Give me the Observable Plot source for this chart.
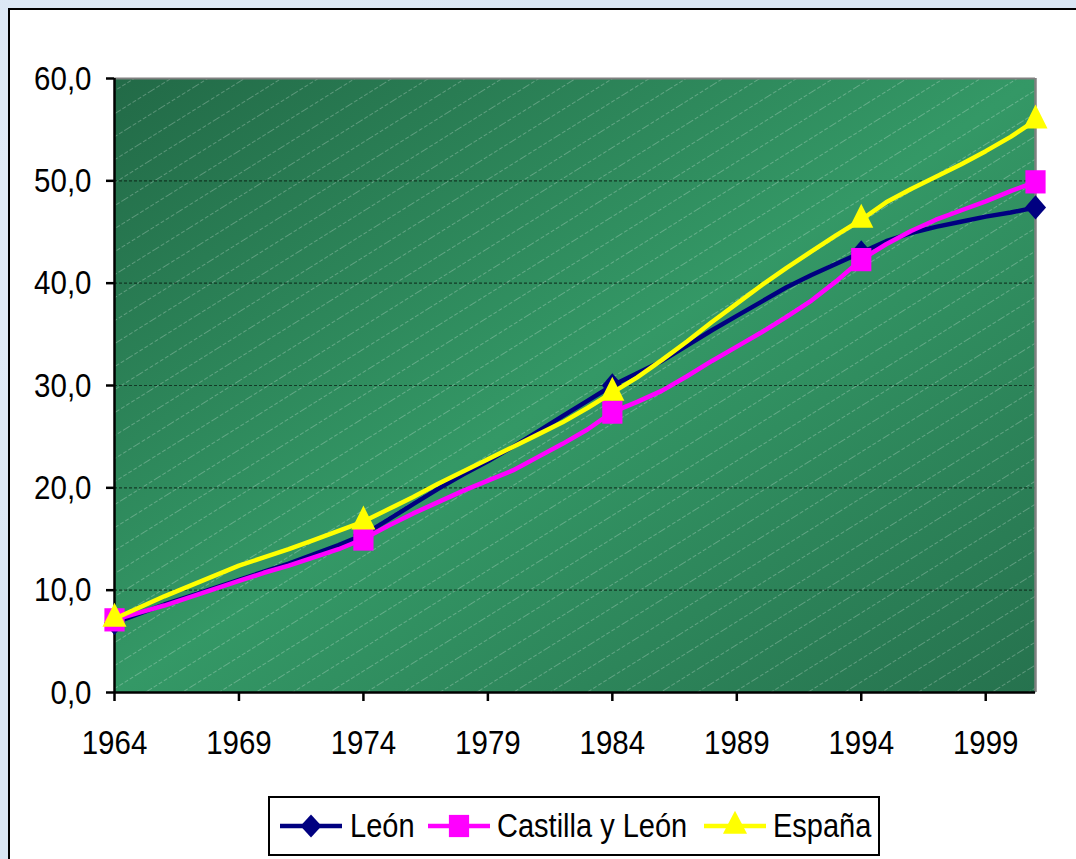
<!DOCTYPE html>
<html>
<head>
<meta charset="utf-8">
<script src="https://cdn.jsdelivr.net/npm/d3@7"></script>
<script src="https://cdn.jsdelivr.net/npm/@observablehq/plot@0.6"></script>
<style>
  html, body { margin: 0; padding: 0; }
  body { width: 1076px; height: 859px; overflow: hidden; position: relative;
         background: #d9e6f4;
         background-image: radial-gradient(circle at 20% 30%, rgba(255,255,255,0.35) 0, rgba(255,255,255,0) 40%),
                           radial-gradient(circle at 80% 70%, rgba(255,255,255,0.3) 0, rgba(255,255,255,0) 40%); }
  #panel { position: absolute; left: 8px; top: 8px; width: 1200px; height: 1000px;
           border: 2px solid #000; background: #fff; }
  #chart { position: absolute; left: 0; top: 0; }
  #legend { position: absolute; left: 268px; top: 796px; width: 608px; height: 56px;
            border: 2px solid #000; background: #fff; font-family: "Liberation Sans", Arial, sans-serif; }
  #legend .sw { position: absolute; top: 11px; }
  #legend .lab { position: absolute; top: 10px; font-size: 29px; line-height: 34px; color: #000;
                 display: inline-block; transform: scaleY(1.15); transform-origin: center; white-space: nowrap; }
</style>
</head>
<body>
<div id="panel"></div>
<div id="chart"></div>
<div id="legend"></div>
<script>
// ---- data ----
const years = [1964,1965,1966,1967,1968,1969,1970,1971,1972,1973,1974,1975,1976,1977,1978,1979,1980,1981,1982,1983,
               1984,1985,1986,1987,1988,1989,1990,1991,1992,1993,1994,1995,1996,1997,1998,1999,2000,2001];
const leon = [6.8,7.7,8.6,9.4,10.2,11.0,11.8,12.6,13.5,14.4,15.4,16.9,18.4,19.9,21.3,22.6,24.0,25.5,27.0,28.5,
              30.0,31.2,32.4,33.9,35.4,36.8,38.2,39.6,40.8,41.9,43.0,44.1,44.9,45.5,46.0,46.5,46.9,47.4];
const castilla = [7.1,7.8,8.5,9.3,10.1,10.9,11.7,12.4,13.2,14.0,15.0,16.3,17.5,18.6,19.7,20.7,21.7,23.0,24.3,25.7,
                  27.4,28.4,29.5,30.9,32.4,33.8,35.2,36.7,38.3,40.2,42.3,43.8,45.1,46.2,47.1,48.0,49.0,49.9];
const espana = [7.2,8.3,9.4,10.4,11.4,12.4,13.2,14.0,14.9,15.8,16.7,17.9,19.1,20.4,21.6,22.8,24.0,25.2,26.4,27.8,
                29.3,30.8,32.5,34.3,36.2,38.0,39.8,41.5,43.1,44.7,46.2,47.9,49.2,50.4,51.6,52.9,54.3,55.9];
const markerYears = [1964,1974,1984,1994,2001];
const seriesNames = ["León","Castilla y León","España"];
const seriesColors = ["#000080","#ff00ff","#ffff00"];
const seriesSymbols = ["diamond2","square","triangle2"];
const xTicks = [1964,1969,1974,1979,1984,1989,1994,1999];
const yTicks = [0,10,20,30,40,50,60];
const gridValues = [10,20,30,40,50];

const seriesValues = [leon, castilla, espana];
const rows = seriesValues.map((vals, s) => years.map((yr, i) => ({year: yr, value: vals[i], series: seriesNames[s]})));
const markerRows = rows.map(r => r.filter(d => markerYears.includes(d.year)));
const symbolR = [9.5, 11.4, 11.5];

const marks = [
  Plot.frame({fill: "url(#bggrad)"}),
  Plot.frame({fill: "url(#hatch)"}),
  Plot.ruleY(gridValues, {stroke: "#0a2014", strokeOpacity: 0.75, strokeWidth: 1.2, strokeDasharray: "3,2"}),
  Plot.ruleY([60], {stroke: "#808080", strokeWidth: 2}),
  Plot.ruleX([2001], {stroke: "#808080", strokeWidth: 2.5}),
  Plot.ruleX([1964], {stroke: "#000", strokeWidth: 2.5}),
  Plot.ruleY([0], {stroke: "#000", strokeWidth: 2.5}),
  Plot.axisX({ticks: xTicks, tickFormat: d => String(d), tickSize: 9, tickPadding: 30, strokeWidth: 2.5, label: null}),
  Plot.axisY({ticks: yTicks, tickFormat: d => d.toFixed(1).replace(".", ","), tickSize: 8, tickPadding: 15, strokeWidth: 2.5, label: null})
];
rows.forEach((r, s) => {
  marks.push(Plot.line(r, {x: "year", y: "value", stroke: seriesColors[s], strokeWidth: 4.5, strokeLinejoin: "round"}));
  marks.push(Plot.dot(markerRows[s], {x: "year", y: "value", symbol: seriesSymbols[s], fill: seriesColors[s], stroke: "none", r: symbolR[s]}));
});

const plot = Plot.plot({
  width: 1076, height: 780,
  marginLeft: 114, marginRight: 41, marginTop: 78, marginBottom: 88,
  x: {domain: [1964, 2001]},
  y: {domain: [0, 60]},
  style: {fontFamily: "'Liberation Sans', Arial, sans-serif", fontSize: "29.5px", background: "transparent", color: "#000", overflow: "visible"},
  marks
});

// defs: gradient + hatch
const ns = "http://www.w3.org/2000/svg";
const defs = document.createElementNS(ns, "defs");
defs.innerHTML = `
  <linearGradient id="bggrad" x1="0" y1="0" x2="1" y2="1">
    <stop offset="0" stop-color="#226a47"/>
    <stop offset="0.5" stop-color="#349866"/>
    <stop offset="1" stop-color="#26724e"/>
  </linearGradient>
  <pattern id="hatch" patternUnits="userSpaceOnUse" width="40" height="19.5" patternTransform="rotate(-32)">
    <line x1="0" y1="0.5" x2="40" y2="0.5" stroke="#ffffff" stroke-opacity="0.25" stroke-width="1" stroke-dasharray="4 2"/>
  </pattern>`;
plot.insertBefore(defs, plot.firstChild);
document.getElementById("chart").appendChild(plot);

// stretch tick labels vertically about their own centre (as in the reference)
plot.querySelectorAll('g[aria-label$="tick label"] text').forEach(t => {
  const b = t.getBBox();
  const cy = b.y + b.height / 2;
  const tr = t.getAttribute("transform") || "";
  t.setAttribute("transform", `${tr} translate(0,${cy}) scale(1,1.15) translate(0,${-cy})`);
});
// markers are slightly taller than wide in the reference
plot.querySelectorAll('g[aria-label="dot"] path').forEach(p => {
  const tr = p.getAttribute("transform") || "";
  p.setAttribute("transform", `${tr} scale(1,1.15)`);
});

// legend
const legend = document.getElementById("legend");
const swLeft = [10, 158, 434];
const labLeft = [80, 227, 503];
seriesNames.forEach((name, s) => {
  const sym = d3.symbol(d3[{diamond2: "symbolDiamond2", square: "symbolSquare", triangle2: "symbolTriangle2"}[seriesSymbols[s]]], Math.PI * symbolR[s] * symbolR[s])();
  const sw = document.createElement("div");
  sw.className = "sw";
  sw.style.left = swLeft[s] + "px";
  sw.innerHTML = `<svg width="62" height="34" viewBox="0 0 62 34"><line x1="0" y1="17" x2="62" y2="17" stroke="${seriesColors[s]}" stroke-width="4.5"/><path d="${sym}" transform="translate(31,17) scale(1,1.1)" fill="${seriesColors[s]}"/></svg>`;
  legend.appendChild(sw);
  const lab = document.createElement("span");
  lab.className = "lab";
  lab.style.left = labLeft[s] + "px";
  lab.textContent = name;
  legend.appendChild(lab);
});
</script>
</body>
</html>
